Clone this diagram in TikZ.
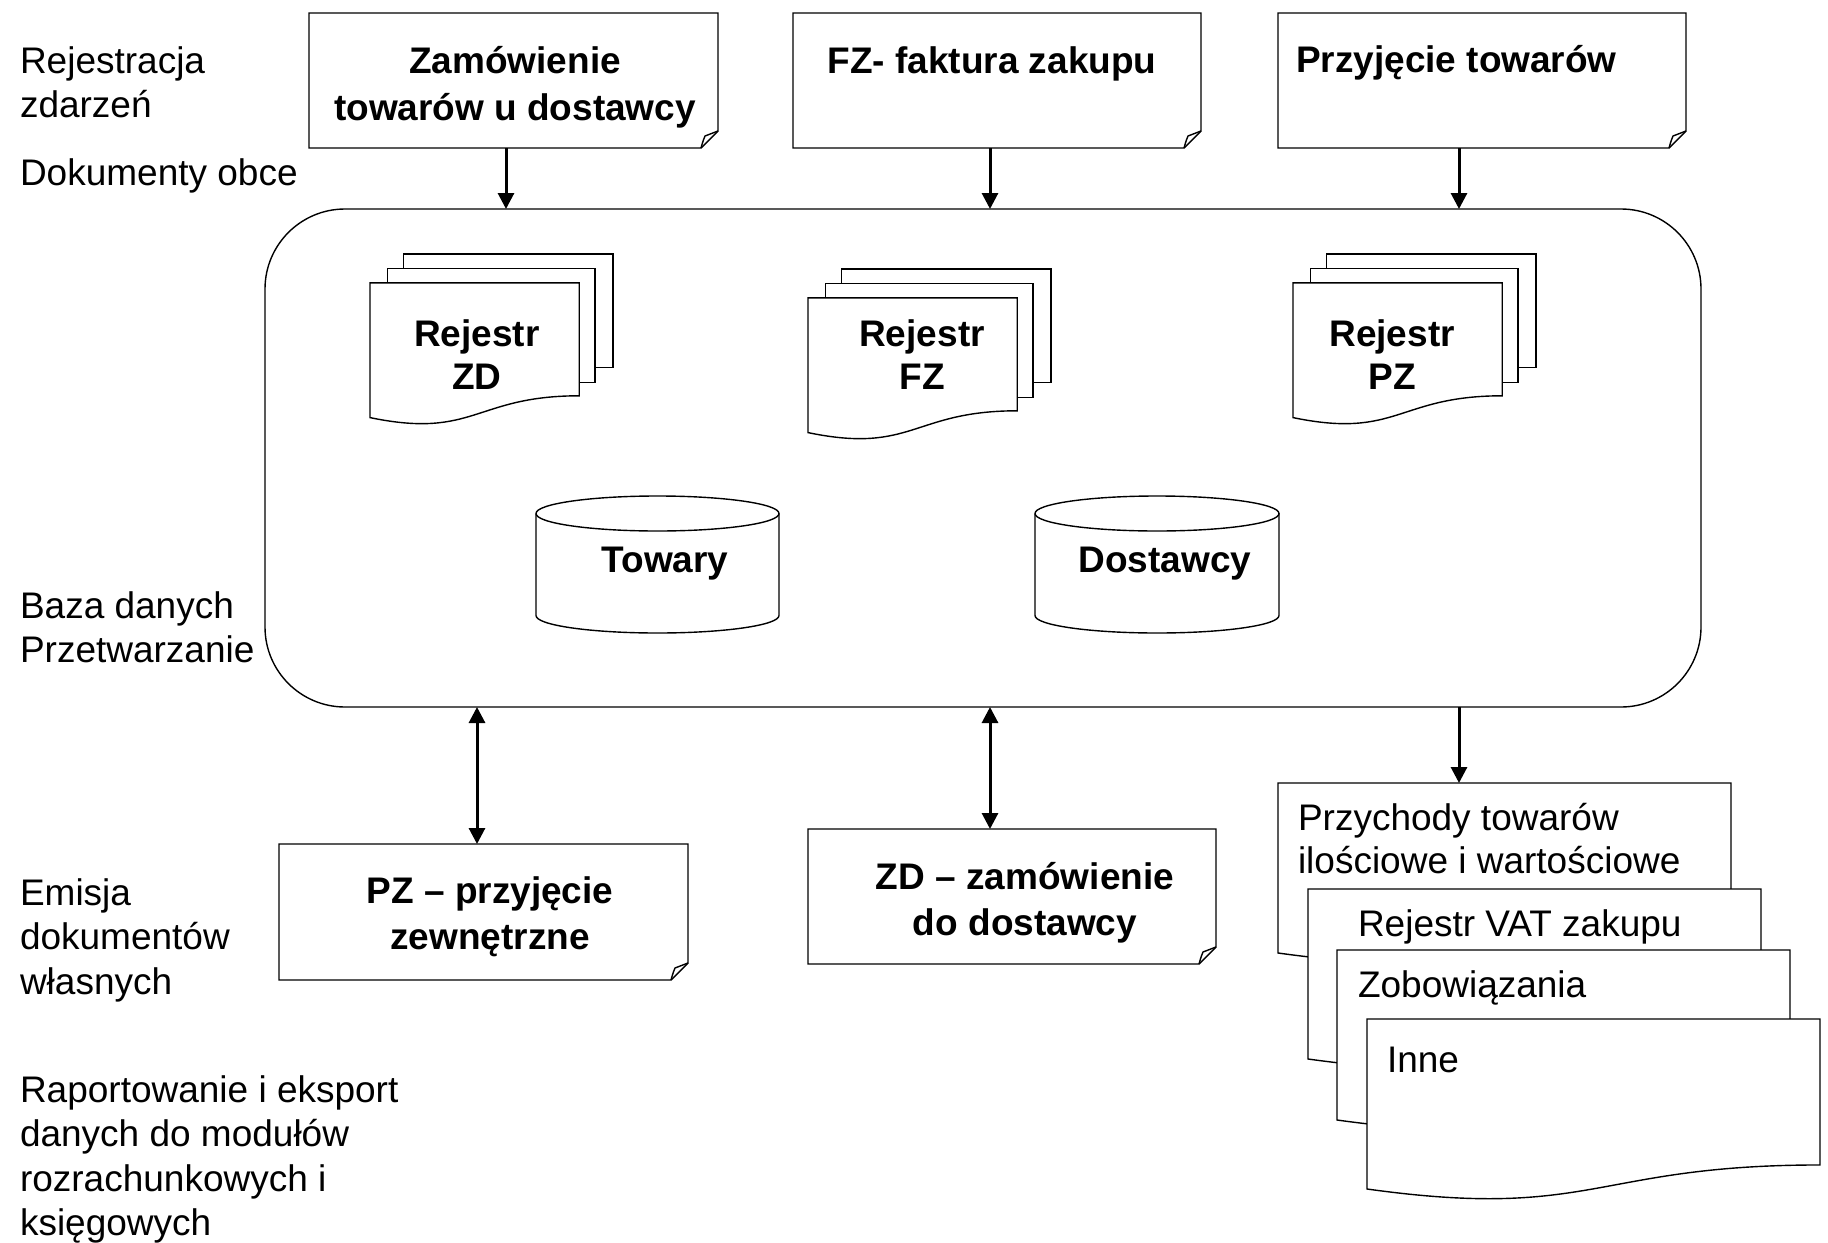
\documentclass[tikz,border=0pt]{standalone}
\usepackage{fontspec}
\setmainfont{Liberation Sans}
\usetikzlibrary{arrows.meta,calc}

% note box with a folded bottom-right corner, drawn around a holder node
\newcommand\foldnote[1]{%
  \draw[outline, fill=white] (#1.north west) -- (#1.north east)
    -- ([yshift=17pt]#1.south east) -- ([xshift=-17pt]#1.south east)
    -- (#1.south west) -- cycle;
  \draw[outline] ([xshift=-17pt]#1.south east)
    .. controls ([xshift=-15pt,yshift=7pt]#1.south east) .. ([xshift=-13pt,yshift=12pt]#1.south east)
    .. controls ([xshift=-7pt,yshift=15pt]#1.south east) .. ([yshift=17pt]#1.south east);
}
% single document page with a wavy bottom edge, drawn around a holder node
\newcommand\docpath[1]{%
  \draw[outline, fill=white] (#1.north west) -- (#1.north east)
    -- ($(#1.north east)!0.802!(#1.south east)$)
    .. controls ($(#1.north)!0.802!(#1.south)$) and ($(#1.north)!1.1075!(#1.south)$)
    .. ($(#1.north west)!0.934!(#1.south west)$) -- cycle;
}
% stack of three document pages, top-left corner #1,#2 (243 x 170)
\newcommand\multidoc[2]{%
  \draw[outline, fill=white] (#1+33.4,#2) rectangle (#1+243,#2+113.3);
  \draw[outline, fill=white] (#1+17.2,#2+14.3) rectangle (#1+225,#2+128.7);
  \draw[outline, fill=white] (#1,#2+28.9) -- (#1+209.2,#2+28.9) -- (#1+209.2,#2+141.8)
    .. controls (#1+104.6,#2+141.8) and (#1+104.6,#2+185.3) .. (#1,#2+163.6) -- cycle;
}
% database cylinder between x #1..#3 and y #2..#4
\newcommand\dbcyl[4]{%
  \draw[outline, fill=white] (#1,#2+17.5) -- (#1,#4-17.5)
    arc[start angle=180, end angle=360, x radius={(#3-#1)/2*1pt}, y radius=17.5pt]
    -- (#3,#2+17.5);
  \draw[outline, fill=white] ({(#1+#3)/2},#2+17.5)
    ellipse[x radius={(#3-#1)/2*1pt}, y radius=17.5pt];
}

\begin{document}
\begin{tikzpicture}[x=1pt,y=-1pt,
  outline/.style={draw=black, line width=1.4pt, line join=miter},
  holder/.style={rectangle, draw=none, inner sep=0pt, outer sep=0pt},
  lbl/.style={inner sep=0pt, outer sep=0pt, anchor=base west,
    font=\fontsize{37}{44.5}\selectfont},
  small/.style={inner sep=0pt, outer sep=0pt, anchor=base west,
    font=\fontsize{37}{43}\selectfont},
  hd/.style={inner sep=0pt, outer sep=0pt, anchor=base,
    font=\fontsize{37}{45}\selectfont\bfseries},
  arr/.style={line width=3pt, -{Triangle[length=16pt,width=16pt]}},
  darr/.style={line width=3pt, {Triangle[length=16pt,width=16pt]}-{Triangle[length=16pt,width=16pt]}}
]
\fill[white] (0,0) rectangle (1828,1242);
\useasboundingbox (0,0) rectangle (1828,1242);

% row labels on the left
\node[lbl] (lrej) at (20,73) {\begin{tabular}[t]{@{}l@{}}Rejestracja\\zdarzeń\end{tabular}};
\node[lbl] (ldok) at (20,185.5) {Dokumenty obce};
\node[lbl] (lbaza) at (20,618) {\begin{tabular}[t]{@{}l@{}}Baza danych\\Przetwarzanie\end{tabular}};
\node[lbl] (lemi) at (20,905) {\begin{tabular}[t]{@{}l@{}}Emisja\\dokumentów\\własnych\end{tabular}};
\node[lbl] (lrap) at (20,1102) {\begin{tabular}[t]{@{}l@{}}Raportowanie i eksport\\danych do modułów\\rozrachunkowych i\\księgowych\end{tabular}};

% incoming documents
\node[holder, minimum width=409pt, minimum height=135pt] (zam) at (513.5,80.5) {};
\node[holder, minimum width=408pt, minimum height=135pt] (fz) at (997,80.5) {};
\node[holder, minimum width=408pt, minimum height=135pt] (prz) at (1482,80.5) {};
\foldnote{zam}
\foldnote{fz}
\foldnote{prz}
\node[hd, font=\fontsize{37}{46.5}\selectfont\bfseries] (zamt) at (515,73.5)
  {\begin{tabular}[t]{@{}c@{}}Zamówienie\\towarów u dostawcy\end{tabular}};
\node[hd] (fzt) at (992,73) {FZ- faktura zakupu};
\node[hd, anchor=base west] (przt) at (1296,72) {Przyjęcie towarów};

% database / processing area
\node[holder, draw=black, line width=1.4pt, fill=white, rounded corners=80pt,
  minimum width=1436pt, minimum height=498pt] (db) at (983,458) {};

\multidoc{370}{254}
\multidoc{808}{269}
\multidoc{1293}{254}
\node[hd, font=\fontsize{37}{43}\selectfont\bfseries] (rzd) at (477,346)
  {\begin{tabular}[t]{@{}c@{}}Rejestr\\ZD\end{tabular}};
\node[hd, font=\fontsize{37}{43}\selectfont\bfseries] (rfz) at (922,346)
  {\begin{tabular}[t]{@{}c@{}}Rejestr\\FZ\end{tabular}};
\node[hd, font=\fontsize{37}{43}\selectfont\bfseries] (rpz) at (1392,346)
  {\begin{tabular}[t]{@{}c@{}}Rejestr\\PZ\end{tabular}};

\dbcyl{536}{496}{779}{633}
\dbcyl{1035}{496}{1279}{633}
\node[hd] (tow) at (665,572) {Towary};
\node[hd] (dos) at (1165,572) {Dostawcy};

% own documents issued
\node[holder, minimum width=409pt, minimum height=136pt] (bpz) at (483.5,912) {};
\node[holder, minimum width=408pt, minimum height=135pt] (bzd) at (1012,896.5) {};
\foldnote{bpz}
\foldnote{bzd}
\node[hd, font=\fontsize{37}{46}\selectfont\bfseries] (bpzt) at (490,903)
  {\begin{tabular}[t]{@{}c@{}}PZ – przyjęcie\\zewnętrzne\end{tabular}};
\node[hd, font=\fontsize{37}{46}\selectfont\bfseries] (bzdt) at (1025,889)
  {\begin{tabular}[t]{@{}c@{}}ZD – zamówienie\\do dostawcy\end{tabular}};

% reports and exports
\node[holder, minimum width=453pt, minimum height=182pt, anchor=north west] (p1) at (1278,783) {};
\node[holder, minimum width=453pt, minimum height=182pt, anchor=north west] (p2) at (1308,889) {};
\node[holder, minimum width=453pt, minimum height=182pt, anchor=north west] (p3) at (1337,950) {};
\node[holder, minimum width=453pt, minimum height=182pt, anchor=north west] (p4) at (1367,1019) {};
\docpath{p1}
\node[small] (p1t) at (1298,830)
  {\begin{tabular}[t]{@{}l@{}}Przychody towarów\\ilościowe i wartościowe\end{tabular}};
\docpath{p2}
\node[small] (p2t) at (1358,936) {Rejestr VAT zakupu};
\docpath{p3}
\node[small] (p3t) at (1358,997) {Zobowiązania};
\docpath{p4}
\node[small] (p4t) at (1387,1072) {Inne};

% flows
\draw[arr] ([xshift=-7.5pt]zam.south) -- ([xshift=-7.5pt]zam.south |- db.north);
\draw[arr] ([xshift=-7pt]fz.south) -- ([xshift=-7pt]fz.south |- db.north);
\draw[arr] ([xshift=-23pt]prz.south) -- ([xshift=-23pt]prz.south |- db.north);
\draw[darr] ([xshift=-6.5pt]bpz.north |- db.south) -- ([xshift=-6.5pt]bpz.north);
\draw[darr] ([xshift=-22pt]bzd.north |- db.south) -- ([xshift=-22pt]bzd.north);
\draw[arr] ([xshift=-45.5pt]p1.north |- db.south) -- ([xshift=-45.5pt]p1.north);
\end{tikzpicture}
\end{document}
